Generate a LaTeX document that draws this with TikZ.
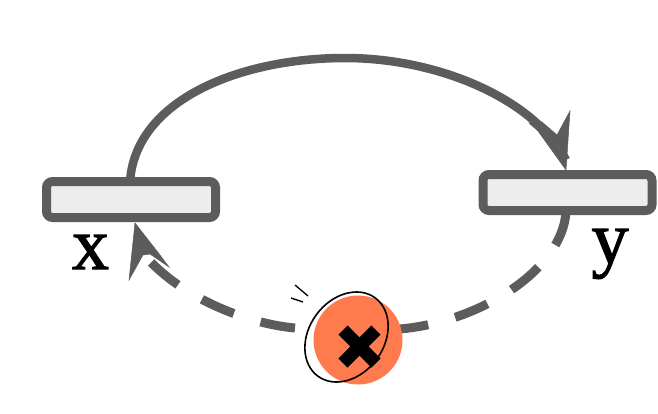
\documentclass[tikz,border=0pt]{standalone}
\usepackage{fontspec}
\newfontfamily\labelfont[FakeBold=1.5]{Liberation Serif}
\usetikzlibrary{shapes.geometric}
\definecolor{linegrey}{HTML}{5C5C5C}
\definecolor{boxfill}{HTML}{EDEDED}
\definecolor{coralfill}{HTML}{FF7A4D}
\tikzset{
  barbox/.style={draw=linegrey,fill=boxfill,line width=9pt,rounded corners=6pt,minimum width=169pt,minimum height=36pt,inner sep=0pt},
  solidlink/.style={draw=linegrey,line width=8.5pt},
  dashlink/.style={draw=linegrey,line width=9pt,dash pattern=on 35pt off 28pt},
  tiphead/.style={fill=linegrey,draw=linegrey,line width=.5pt,line join=miter},
  letter/.style={inner sep=0pt,anchor=base,font=\fontsize{74}{74}\labelfont},
}
\begin{document}
\begin{tikzpicture}[x=1pt,y=-1pt]
\useasboundingbox (0,0) rectangle (658,413);
\fill[white] (0,0) rectangle (658,413);
% connectors
\node[circle,minimum size=96pt,inner sep=0pt] (stop) at (352,338) {};
\coordinate (xtop) at (130,182);
\coordinate (ytop) at (566,160);
\coordinate (ybot) at (566,212);
\coordinate (xbot) at (147,258);
\coordinate (cr) at (400,329);
\coordinate (cl) at (295,328);
\draw[solidlink] (xtop) .. controls (135,100) and (240,58) .. (345,58)
   .. controls (440,58) and (535,100) .. (ytop);
\draw[dashlink] (ybot) .. controls (562,270) and (480,322) .. (cr);
\draw[dashlink] (cl) .. controls (250,324) and (185,300) .. (xbot);
% boxes
\node[barbox] (xbox) at (131,199.5) {};
\node[barbox] (ybox) at (567.5,192.5) {};
% arrowheads
\filldraw[tiphead] (566,170) -- (570,111) -- (557,135) -- (542,122) -- (529,123) -- (538,131) -- cycle;
\filldraw[tiphead] (135,223) -- (129,280) -- (143,255) -- (150,254) -- (169,267) -- (160,255) -- cycle;
% marker
\fill[coralfill] (358,340) circle[radius=44.5];
\draw[black,line width=1.6pt] (346.5,337) ellipse[x radius=48.5,y radius=37.5,rotate=54];
\draw[black,line width=13pt] (343,330) -- (376,363);
\draw[black,line width=13pt] (376,330) -- (343,363);
\draw[black,line width=1.3pt] (295,285) -- (308,296);
\draw[black,line width=1.3pt] (291,298) -- (303,302);
% labels
\node[letter] (xlabel) at (90.5,269) {x};
\node[letter] (ylabel) at (610,263) {y};
\end{tikzpicture}
\end{document}
